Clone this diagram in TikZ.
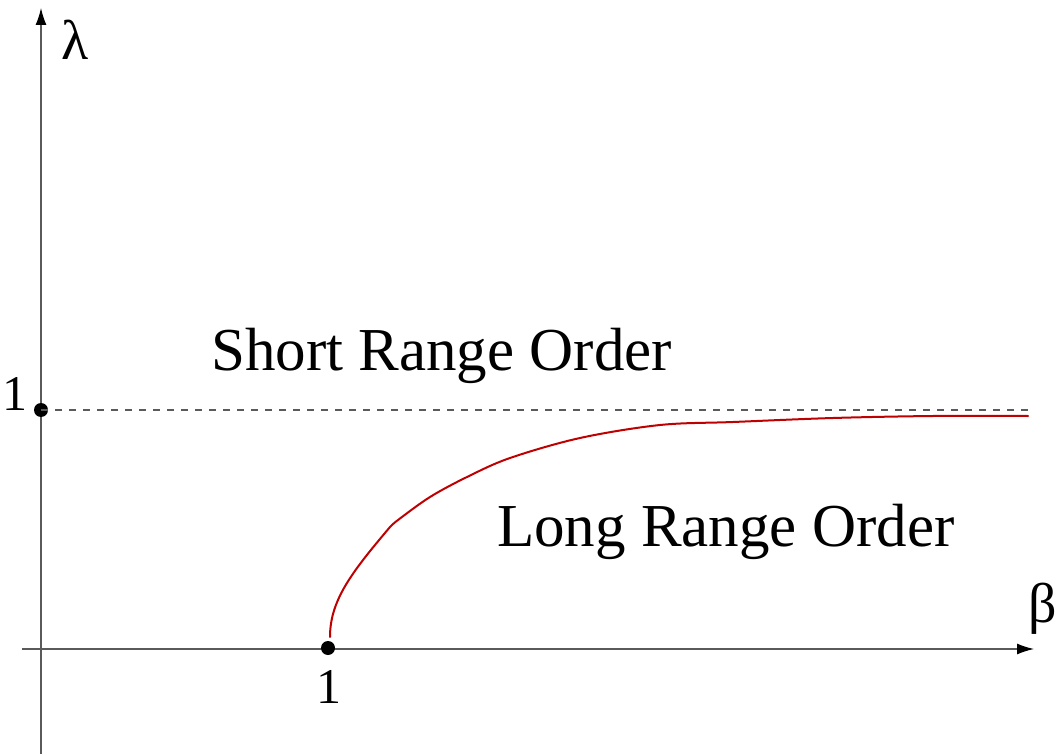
\documentclass[tikz,border=0pt]{standalone}
\usepackage{fontspec}
\setmainfont{Liberation Serif}
\usetikzlibrary{arrows.meta}
\definecolor{axisgray}{RGB}{90,90,90}
\definecolor{curvered}{RGB}{190,0,0}
\tikzset{
  axis/.style={draw=axisgray, line width=1.3pt, -{Latex[length=17pt,width=11pt,black]}},
  region/.style={inner sep=0pt, anchor=base west, font=\fontsize{61}{70}\selectfont},
  ticklabel/.style={inner sep=0pt, font=\fontsize{50}{60}\selectfont},
  greeklabel/.style={inner sep=0pt, font=\fontsize{56}{64}\selectfont},
  dotmark/.style={circle, fill=black, inner sep=0pt, minimum size=14pt},
  limitline/.style={draw=axisgray, line width=1.1pt, dash pattern=on 7pt off 7pt},
  phaseline/.style={draw=curvered, line width=2pt, line join=round, line cap=round}
}
\begin{document}
\begin{tikzpicture}[x=1pt,y=-1pt]
\useasboundingbox (0,0) rectangle (1058,754);
% axes
\coordinate (xs) at (22,649);
\coordinate (xe) at (1034,649);
\coordinate (ys) at (41,754);
\coordinate (ye) at (41,8);
\draw[axis] (xs) -- (xe);
\draw[axis] (ys) -- (ye);
\node[greeklabel, anchor=base west] (lam) at (61,60) {λ};
\node[greeklabel, anchor=base west] (bet) at (1028,622) {β};
% dashed limit line
\node[dotmark] (d1) at (41,410) {};
\coordinate (de) at (1032,410);
\draw[limitline] (d1.center) -- (de);
\node[ticklabel, anchor=base east] (one1) at (28,410) {1};
\node[dotmark] (d2) at (328,648) {};
\node[ticklabel, anchor=base] (one2) at (329,703) {1};
% phase boundary
\coordinate (c0) at (330,637);
\coordinate (c1) at (390,527);
\draw[phaseline] (c0) .. controls (330,600) and (352,572) .. (c1)
  plot[smooth, tension=0.55] coordinates {
 (390,527) (398,520) (430,497) (467,477) (510,458) (580,438) (660,425)
 (733,422) (833,418) (933,416) (1028,416)};
% region labels
\node[region] (sro) at (211,370) {Short Range Order};
\node[region] (lro) at (497,546) {Long Range Order};
\end{tikzpicture}
\end{document}
